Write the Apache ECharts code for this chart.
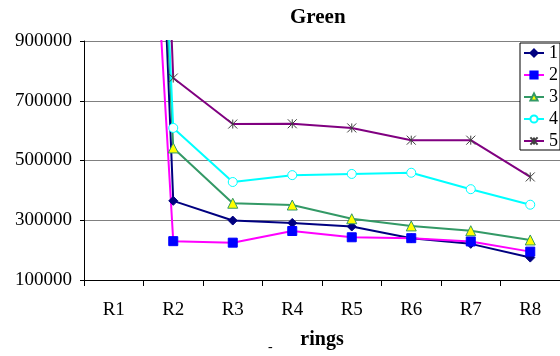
<!DOCTYPE html>
<html>
<head>
<meta charset="utf-8">
<script src="https://cdn.jsdelivr.net/npm/echarts@6/dist/echarts.min.js"></script>
<style>
  html, body { margin: 0; padding: 0; background: #fff; }
  #Chart { width: 560px; height: 356px; }
</style>
</head>
<body>
<div id="Chart"></div>
<script>
// 数据
var rings = ['R1', 'R2', 'R3', 'R4', 'R5', 'R6', 'R7', 'R8'];
var yTicks = [100000, 300000, 500000, 700000, 900000];
var seriesNames = ['1', '2', '3', '4', '5'];
var s1 = [5300000, 365000, 299000, 291000, 279000, 240000, 221000, 175000];
var s2 = [3600000, 230000, 225000, 264000, 243000, 240000, 229000, 195000];
var s3 = [4850000, 542000, 357000, 351000, 305000, 281000, 265000, 234000];
var s4 = [4980000, 609000, 428000, 451000, 455000, 459000, 404000, 352000];
var s5 = [5730000, 776000, 622000, 623000, 609000, 568000, 568000, 445000];

var FONT = 'Liberation Serif';
// 星号标记
var STAR = 'path://M0,0L10,10M10,0L0,10M5,0L5,10';

var chart = echarts.init(document.getElementById('Chart'));

function makeSeries(name, data, lineColor, symbol, size, fill, border) {
    return {
        type: 'line',
        name: name,
        data: data,
        symbol: symbol,
        symbolSize: size,
        clip: true,
        animation: false,
        lineStyle: { color: lineColor, width: 2 },
        itemStyle: { color: fill, borderColor: border, borderWidth: 1 }
    };
}

var option = {
    backgroundColor: '#fff',
    animation: false,
    title: {
        text: 'Green',
        left: 290,
        top: 7,
        padding: 0,
        textStyle: { fontFamily: FONT, fontSize: 21, fontWeight: 'bold', color: '#000' }
    },
    legend: {
        orient: 'vertical',
        left: 520,
        top: 43,
        padding: [1, 2, 0, 3],
        itemGap: 4,
        itemWidth: 20,
        itemHeight: 9,
        backgroundColor: '#fff',
        borderColor: '#000',
        borderWidth: 1,
        borderRadius: 0,
        data: seriesNames,
        textStyle: { fontFamily: FONT, fontSize: 18, color: '#000', lineHeight: 18 }
    },
    grid: { left: 84, top: 41, width: 478, height: 239 },
    xAxis: {
        type: 'category',
        data: rings,
        boundaryGap: true,
        name: 'rings',
        nameLocation: 'middle',
        nameGap: 50,
        nameTextStyle: { fontFamily: FONT, fontSize: 20, fontWeight: 'bold', color: '#000' },
        axisLine: { lineStyle: { color: '#000', width: 1 } },
        axisTick: { show: true, length: 6, lineStyle: { color: '#000' } },
        axisLabel: { fontFamily: FONT, fontSize: 19, color: '#000', margin: 21 },
        splitLine: { show: false }
    },
    yAxis: {
        type: 'value',
        min: yTicks[0],
        max: yTicks[yTicks.length - 1],
        interval: 200000,
        axisLine: { show: true, lineStyle: { color: '#000', width: 1 } },
        axisTick: { show: true, length: 4, lineStyle: { color: '#000' } },
        axisLabel: {
            fontFamily: FONT, fontSize: 19, color: '#000', margin: 12,
            formatter: function (v) { return String(v); }
        },
        splitLine: { show: true, lineStyle: { color: '#808080', width: 1 } }
    },
    graphic: [{
        type: 'text',
        left: 268,
        top: 340,
        style: { text: '-', fontFamily: FONT, fontSize: 14, fill: '#000' }
    }],
    series: [
        makeSeries(seriesNames[0], s1, '#000080', 'diamond', 9, '#000080', '#000080'),
        makeSeries(seriesNames[1], s2, '#FF00FF', 'rect', 9, '#0000FF', '#0000FF'),
        makeSeries(seriesNames[2], s3, '#339966', 'triangle', 10, '#FFFF00', '#339966'),
        makeSeries(seriesNames[3], s4, '#00FFFF', 'circle', 9, '#fff', '#00FFFF'),
        makeSeries(seriesNames[4], s5, '#800080', STAR, 9, 'none', '#404040')
    ]
};

chart.setOption(option);
</script>
</body>
</html>
